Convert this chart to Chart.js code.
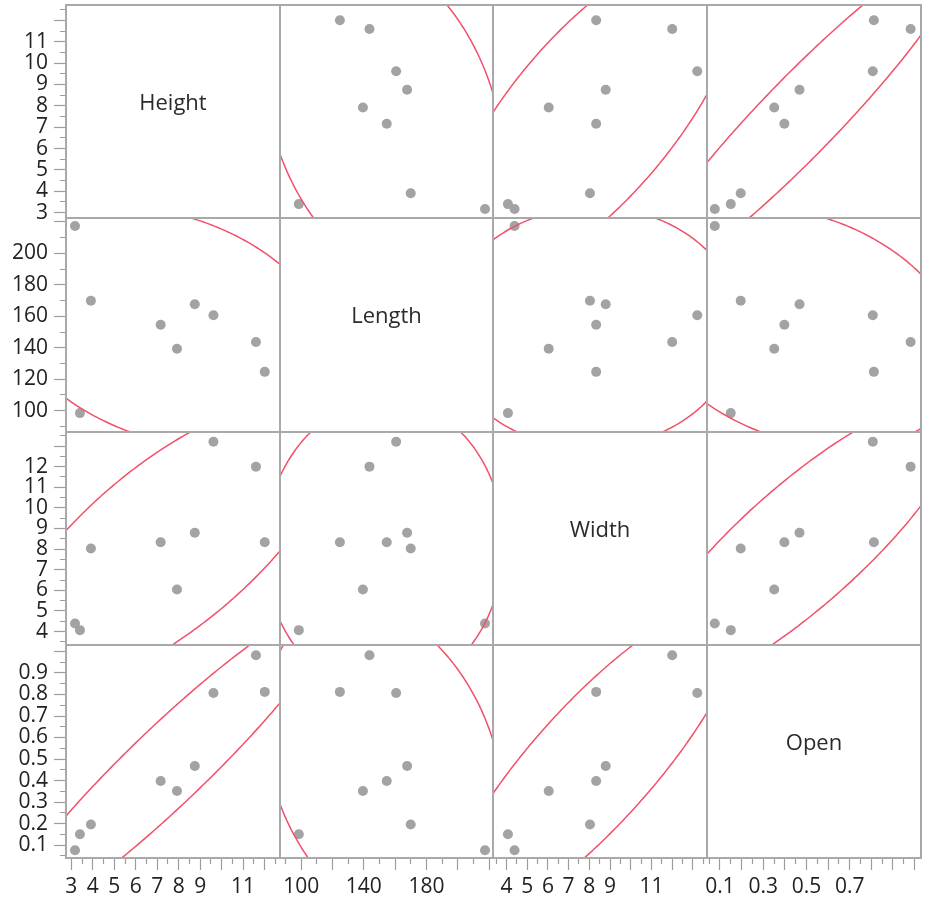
<!DOCTYPE html>
<html lang="en">
<head>
<meta charset="utf-8">
<title>Scatterplot Matrix</title>
<script src="https://cdn.jsdelivr.net/npm/chart.js@4.4.0/dist/chart.umd.min.js"></script>
<style>
  html, body { margin: 0; padding: 0; background: #fff; }
  #matrix { position: relative; width: 925px; height: 903px; }
  #matrix canvas { position: absolute; }
</style>
</head>
<body>
<div id="matrix"></div>
<script>
// 変数名と観測値 (9 obs)
const varNames = ['Height', 'Length', 'Width', 'Open'];
const heightValues = [3.17, 3.40, 3.91, 7.16, 7.92, 8.75, 9.62, 11.6, 12.01];
const lengthValues = [217.3, 98.5, 169.9, 154.6, 139.4, 167.6, 160.6, 143.6, 124.7];
const widthValues = [4.39, 4.07, 8.03, 8.33, 6.04, 8.79, 13.21, 12.0, 8.33];
const openValues = [0.076, 0.150, 0.196, 0.398, 0.351, 0.468, 0.807, 0.982, 0.812];

// tick labels shown on the left (y) and bottom (x) axes
const heightYLabels = [3, 4, 5, 6, 7, 8, 9, 10, 11];
const heightXLabels = [3, 4, 5, 6, 7, 8, 9, 11];
const lengthYLabels = [100, 120, 140, 160, 180, 200];
const lengthXLabels = [100, 140, 180];
const widthYLabels = [4, 5, 6, 7, 8, 9, 10, 11, 12];
const widthXLabels = [4, 5, 6, 7, 8, 9, 11];
const openYLabels = [0.1, 0.2, 0.3, 0.4, 0.5, 0.6, 0.7, 0.8, 0.9];
const openXLabels = [0.1, 0.3, 0.5, 0.7];

// axis setup per variable
const axes = [
  { values: heightValues, min: 2.75, max: 12.72, step: 0.5, major: 1, yLabels: heightYLabels, xLabels: heightXLabels },
  { values: lengthValues, min: 86.5, max: 222.4, step: 10, major: 20, yLabels: lengthYLabels, xLabels: lengthXLabels },
  { values: widthValues, min: 3.35, max: 13.68, step: 0.5, major: 1, yLabels: widthYLabels, xLabels: widthXLabels },
  { values: openValues, min: 0.04, max: 1.03, step: 0.05, major: 0.1, yLabels: openYLabels, xLabels: openXLabels }
];

// cell borders on the page
const gridX = [66, 280, 493, 707, 921];
const gridY = [5, 218, 432, 645, 858];
const PAGE_W = 925, PAGE_H = 903;

const POINT_COLOR = '#a3a3a3';
const ELLIPSE_COLOR = '#f2506a';
const FRAME_COLOR = '#a9a9a9';
const TEXT_COLOR = '#222222';
const FONT = '"Open Sans", "Noto Sans", sans-serif';
const ELLIPSE_C = 5.991; // chi-square 95%, 2 df

const r3 = v => Math.round(v * 1000) / 1000;

// density ellipse from mean / covariance
function densityEllipse(xs, ys) {
  const n = xs.length;
  const mx = xs.reduce((a, b) => a + b, 0) / n;
  const my = ys.reduce((a, b) => a + b, 0) / n;
  let sxx = 0, syy = 0, sxy = 0;
  for (let i = 0; i < n; i++) {
    sxx += (xs[i] - mx) ** 2;
    syy += (ys[i] - my) ** 2;
    sxy += (xs[i] - mx) * (ys[i] - my);
  }
  sxx /= n; syy /= n; sxy /= n;
  const k = Math.sqrt(ELLIPSE_C);
  const a = Math.sqrt(sxx);
  const b = sxy / a;
  const d = Math.sqrt(Math.max(syy - b * b, 0));
  const pts = [];
  for (let i = 0; i <= 360; i++) {
    const t = i / 360 * Math.PI * 2;
    const u = Math.cos(t) * k, w = Math.sin(t) * k;
    pts.push({ x: mx + a * u, y: my + b * u + d * w });
  }
  return pts;
}

function tickList(ax) {
  const out = [];
  const start = Math.ceil(ax.min / ax.step - 1e-9);
  for (let i = start; i * ax.step <= ax.max + 1e-9; i++) out.push(r3(i * ax.step));
  return out;
}

function isMajor(ax, v) {
  const q = v / ax.major;
  return Math.abs(q - Math.round(q)) < 1e-6;
}

function makeScale(ax, dir, show) {
  const labels = dir === 'y' ? ax.yLabels : ax.xLabels;
  return {
    type: 'linear',
    display: show,
    min: ax.min,
    max: ax.max,
    border: { display: false },
    grid: {
      drawOnChartArea: false,
      drawTicks: true,
      tickLength: 12,
      tickColor: '#9c9c9c',
      tickWidth: 1.2,
      // 短い目盛り (minor) は破線で半分だけ描く
      tickBorderDash: ctx => {
        if (!ctx.tick || isMajor(ax, ctx.tick.value)) return [];
        return dir === 'y' ? [0, 6, 6, 60] : [6, 60];
      }
    },
    ticks: {
      autoSkip: false,
      maxRotation: 0,
      minRotation: 0,
      padding: dir === 'y' ? 6 : 4,
      color: TEXT_COLOR,
      font: { family: FONT, size: 21 },
      callback: value => labels.some(l => Math.abs(l - value) < 1e-6) ? String(r3(value)) : ''
    },
    afterBuildTicks: scale => {
      scale.ticks = tickList(ax).map(value => ({ value }));
    },
    afterFit: scale => {
      if (show) {
        if (dir === 'y') scale.width = gridX[0];
        else scale.height = PAGE_H - gridY[4];
      } else {
        scale.width = 0;
        scale.height = 0;
      }
      scale.paddingTop = scale.paddingBottom = scale.paddingLeft = scale.paddingRight = 0;
    }
  };
}

const framePlugin = {
  id: 'cellFrame',
  afterDraw(chart) {
    const { ctx, chartArea: a } = chart;
    ctx.save();
    ctx.strokeStyle = FRAME_COLOR;
    ctx.lineWidth = 2;
    ctx.strokeRect(a.left, a.top, a.right - a.left, a.bottom - a.top);
    ctx.restore();
  }
};

const diagPlugin = {
  id: 'diagLabel',
  afterDraw(chart, args, opts) {
    if (!opts || !opts.text) return;
    const { ctx, chartArea: a } = chart;
    ctx.save();
    ctx.font = '22px ' + FONT;
    ctx.fillStyle = '#2b2b2b';
    ctx.textAlign = 'center';
    ctx.textBaseline = 'middle';
    ctx.fillText(opts.text, (a.left + a.right) / 2, (a.top + a.bottom) / 2 - 8);
    ctx.restore();
  }
};

const holder = document.getElementById('matrix');
const M = 3;

for (let r = 0; r < 4; r++) {
  for (let c = 0; c < 4; c++) {
    const left = c === 0 ? 0 : gridX[c] - M;
    const right = c === 3 ? PAGE_W : gridX[c + 1] + M;
    const top = r === 0 ? 0 : gridY[r] - M;
    const bottom = r === 3 ? PAGE_H : gridY[r + 1] + M;

    const canvas = document.createElement('canvas');
    canvas.width = right - left;
    canvas.height = bottom - top;
    canvas.style.left = left + 'px';
    canvas.style.top = top + 'px';
    canvas.style.width = (right - left) + 'px';
    canvas.style.height = (bottom - top) + 'px';
    holder.appendChild(canvas);

    const xAx = axes[c], yAx = axes[r];
    const datasets = [];
    if (r !== c) {
      datasets.push({
        type: 'scatter',
        label: 'ellipse',
        data: densityEllipse(xAx.values, yAx.values),
        showLine: true,
        borderColor: ELLIPSE_COLOR,
        borderWidth: 1.5,
        pointRadius: 0,
        fill: false,
        tension: 0,
        clip: 0,
        order: 0
      });
      datasets.push({
        type: 'scatter',
        label: varNames[r] + ' vs ' + varNames[c],
        data: xAx.values.map((x, i) => ({ x, y: yAx.values[i] })),
        pointRadius: 5,
        pointHoverRadius: 5,
        pointBackgroundColor: POINT_COLOR,
        pointBorderWidth: 0,
        borderColor: POINT_COLOR,
        clip: 0,
        order: 1
      });
    }

    new Chart(canvas, {
      type: 'scatter',
      data: { datasets },
      options: {
        responsive: false,
        devicePixelRatio: 1,
        animation: false,
        events: [],
        layout: {
          autoPadding: false,
          padding: {
            left: c === 0 ? 0 : M,
            right: c === 3 ? PAGE_W - gridX[4] : M,
            top: r === 0 ? gridY[0] : M,
            bottom: r === 3 ? 0 : M
          }
        },
        scales: {
          x: makeScale(xAx, 'x', r === 3),
          y: makeScale(yAx, 'y', c === 0)
        },
        plugins: {
          legend: { display: false },
          tooltip: { enabled: false },
          diagLabel: { text: r === c ? varNames[r] : '' }
        }
      },
      plugins: [framePlugin, diagPlugin]
    });
  }
}
</script>
</body>
</html>
